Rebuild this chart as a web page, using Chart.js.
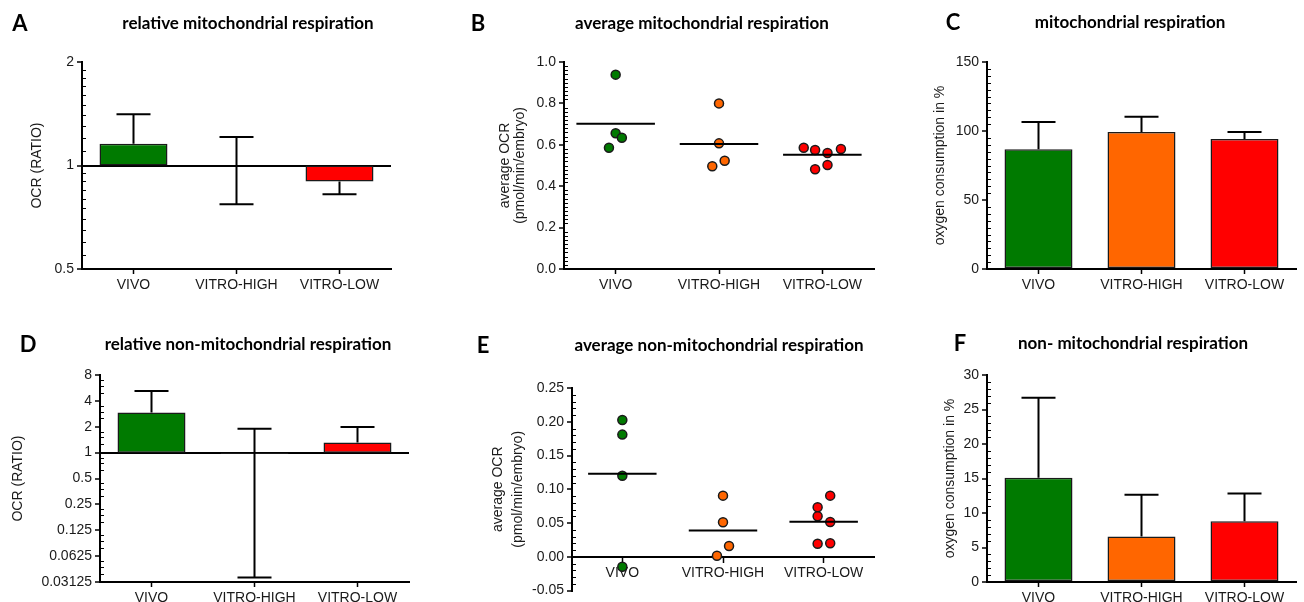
<!DOCTYPE html>
<html>
<head>
<meta charset="utf-8">
<script src="https://cdn.jsdelivr.net/npm/chart.js@4.4.1/dist/chart.umd.min.js"></script>
<style>
  body { margin: 0; background: #fff; width: 1304px; height: 602px; position: relative; overflow: hidden; }
  canvas { position: absolute; }
</style>
</head>
<body>
<canvas id="panelA" width="430" height="300" style="left:0;top:0"></canvas>
<canvas id="panelB" width="450" height="300" style="left:430px;top:0"></canvas>
<canvas id="panelC" width="424" height="300" style="left:880px;top:0"></canvas>
<canvas id="panelD" width="430" height="282" style="left:0;top:320px"></canvas>
<canvas id="panelE" width="450" height="282" style="left:430px;top:320px"></canvas>
<canvas id="panelF" width="424" height="282" style="left:880px;top:320px"></canvas>
<script>
var groups = ['VIVO', 'VITRO-HIGH', 'VITRO-LOW'];
var groupColors = ['#007a00', '#ff6600', '#ff0000'];

// A: relative mitochondrial respiration (ratio, log2 axis, bars from 1)
var relMitoMean = [1.157, 1.0, 0.898];
var relMitoErrTop = [1.41, 1.21, null];
var relMitoErrBottom = [null, 0.772, 0.825];
var relMitoTicks = [0.5, 1, 2];

// B: average mitochondrial respiration, single embryos
var avgMitoVivo = [0.939, 0.656, 0.634, 0.586];
var avgMitoHigh = [0.800, 0.607, 0.523, 0.496];
var avgMitoLow = [0.586, 0.575, 0.560, 0.580, 0.482, 0.502];
var avgMitoMean = [0.702, 0.604, 0.552];
// sideways spread of the dots inside a group (category units)
var avgMitoSpread = [[0, 0, 0.06, -0.065], [0, 0, 0.055, -0.065], [-0.18, -0.07, 0.05, 0.18, -0.07, 0.05]];
var avgMitoTicks = [0, 0.2, 0.4, 0.6, 0.8, 1.0];

// C: mitochondrial respiration in %
var mitoPct = [86.7, 99.3, 94.2];
var mitoPctErrTop = [106.5, 110.4, 99.3];
var mitoPctTicks = [0, 50, 100, 150];

// D: relative non-mitochondrial respiration
var relNonMean = [2.93, 0.967, 1.31];
var relNonErrTop = [5.2, 1.9, 1.99];
var relNonErrBottom = [null, 0.0352, null];
var relNonTicks = [0.03125, 0.0625, 0.125, 0.25, 0.5, 1, 2, 4, 8];

// E: average non-mitochondrial respiration, single embryos
var avgNonVivo = [0.2026, 0.181, 0.120, -0.0146];
var avgNonHigh = [0.0906, 0.0512, 0.016, 0.0015];
var avgNonLow = [0.0906, 0.0735, 0.060, 0.0516, 0.0195, 0.020];
var avgNonMean = [0.123, 0.039, 0.052];
var avgNonSpread = [[0, 0, 0, 0], [0, 0, 0.06, -0.06], [0.065, -0.06, -0.06, 0.065, -0.06, 0.065]];
var avgNonTicks = [-0.05, 0, 0.05, 0.1, 0.15, 0.2, 0.25];

// F: non-mitochondrial respiration in %
var nonPct = [15.1, 6.59, 8.81];
var nonPctErrTop = [26.7, 12.63, 12.83];
var nonPctTicks = [0, 5, 10, 15, 20, 25, 30];

Chart.defaults.font.family = '"Liberation Sans", Arial, sans-serif';
Chart.defaults.font.size = 14;
Chart.defaults.color = '#1a1a1a';
Chart.defaults.animation = false;
Chart.defaults.plugins.legend.display = false;
Chart.defaults.plugins.tooltip.enabled = false;

// minor tick positions between the labelled ticks
function linearMinor(ticks, n) {
  var out = [];
  for (var i = 0; i < ticks.length - 1; i++) {
    var step = (ticks[i + 1] - ticks[i]) / n;
    for (var k = 1; k < n; k++) out.push(ticks[i] + k * step);
  }
  return out;
}
function logMinor(ticks, mults) {
  var out = [];
  for (var i = 0; i < ticks.length - 1; i++) {
    mults.forEach(function(m) { out.push(ticks[i] * m); });
  }
  return out;
}

// panel letter + bold heading
var panelText = {
  id: 'panelText',
  afterDraw: function(chart, args, opts) {
    var ctx = chart.ctx;
    ctx.save();
    ctx.fillStyle = '#000';
    ctx.textAlign = 'center';
    ctx.textBaseline = 'middle';
    ctx.font = 'bold 22px Lato, sans-serif';
    ctx.fillText(opts.letter, opts.letterX, opts.y);
    ctx.font = 'bold 17px Lato, sans-serif';
    ctx.fillText(opts.title, opts.titleX, opts.y);
    ctx.restore();
  }
};

// small inward ticks on the y axis
var minorTicks = {
  id: 'minorTicks',
  afterDraw: function(chart, args, opts) {
    if (!opts.values) return;
    var ctx = chart.ctx, y = chart.scales.y, x0 = chart.chartArea.left;
    ctx.save();
    ctx.strokeStyle = '#000';
    ctx.lineWidth = 1;
    ctx.beginPath();
    opts.values.forEach(function(v) {
      var py = Math.round(y.getPixelForValue(v)) + 0.5;
      ctx.moveTo(x0, py);
      ctx.lineTo(x0 + 4, py);
    });
    ctx.stroke();
    ctx.restore();
  }
};

// SD whiskers for the bar panels
var errorBars = {
  id: 'errorBars',
  afterDatasetsDraw: function(chart, args, opts) {
    var ctx = chart.ctx, y = chart.scales.y;
    chart.data.datasets.forEach(function(ds, di) {
      if (!ds.errTop) return;
      chart.getDatasetMeta(di).data.forEach(function(bar, i) {
        var top = ds.errTop[i];
        var bot = ds.errBottom ? ds.errBottom[i] : null;
        var y1 = y.getPixelForValue(top != null ? top : ds.means[i]);
        var y0 = y.getPixelForValue(bot != null ? bot : ds.means[i]);
        var half = opts.cap / 2;
        ctx.save();
        ctx.strokeStyle = '#000';
        ctx.lineWidth = 2;
        ctx.beginPath();
        ctx.moveTo(bar.x, y0);
        ctx.lineTo(bar.x, y1);
        if (top != null) { ctx.moveTo(bar.x - half, y1); ctx.lineTo(bar.x + half, y1); }
        if (bot != null) { ctx.moveTo(bar.x - half, y0); ctx.lineTo(bar.x + half, y0); }
        ctx.stroke();
        ctx.restore();
      });
    });
  }
};

function yScale(p) {
  return {
    type: p.log ? 'logarithmic' : 'linear',
    min: p.min, max: p.max,
    afterFit: function(s) { s.width = p.area.left; },
    afterBuildTicks: function(s) {
      s.ticks = p.ticks.map(function(v) { return { value: v }; });
    },
    border: { color: '#000', width: 2 },
    grid: {
      color: function(c) { return p.log && c.tick && c.tick.value === 1 ? '#000' : 'rgba(0,0,0,0)'; },
      lineWidth: 2,
      tickColor: '#000', tickWidth: 1.5, tickLength: 5
    },
    ticks: {
      padding: 3,
      callback: p.fmt || function(v) { return String(v); }
    },
    title: {
      display: true, text: p.yTitle,
      font: { size: 14, lineHeight: p.titleLine || 1.2 },
      padding: { top: p.titlePad, bottom: 0 }
    }
  };
}

function plainXGrid() {
  return { drawOnChartArea: false, offset: false, tickColor: '#000', tickWidth: 1.5, tickLength: 5 };
}

function barPanel(id, p) {
  var c = document.getElementById(id);
  new Chart(c, {
    type: 'bar',
    data: {
      labels: groups,
      datasets: [{
        data: p.means.map(function(m) { return p.log ? [1, m] : m; }),
        means: p.means, errTop: p.errTop, errBottom: p.errBottom,
        backgroundColor: groupColors,
        borderColor: '#1a1a1a', borderWidth: 1.5, borderSkipped: false,
        categoryPercentage: 1, barPercentage: 0.66
      }]
    },
    options: {
      responsive: false,
      layout: { padding: { left: 0, right: c.width - p.area.right, top: p.area.top, bottom: 0 } },
      scales: {
        x: {
          afterFit: function(s) { s.height = c.height - p.area.bottom; },
          border: { color: '#000', width: 2 },
          grid: plainXGrid(),
          ticks: { padding: 3 }
        },
        y: yScale(p)
      },
      plugins: { panelText: p.text, errorBars: { cap: 34 }, minorTicks: { values: p.minor } }
    },
    plugins: [panelText, errorBars, minorTicks]
  });
}

function dotPanel(id, p) {
  var c = document.getElementById(id);
  var sets = p.values.map(function(vals, g) {
    return {
      type: 'scatter',
      data: vals.map(function(v, k) { return { x: g + p.spread[g][k], y: v }; }),
      backgroundColor: groupColors[g], borderColor: '#1a1a1a', borderWidth: 1.5,
      pointRadius: 4.5, order: 2
    };
  });
  var meanPts = [];
  p.means.forEach(function(m, g) {
    meanPts.push({ x: g - p.halfLine, y: m }, { x: g + p.halfLine, y: m }, { x: g + 0.5, y: null });
  });
  sets.push({
    type: 'line', data: meanPts, borderColor: '#000', borderWidth: 2,
    pointRadius: 0, spanGaps: false, order: 1
  });
  var xAxis = {
    type: 'linear', min: -0.5, max: 2.5,
    afterBuildTicks: function(s) { s.ticks = [{ value: 0 }, { value: 1 }, { value: 2 }]; },
    border: { color: '#000', width: 2 },
    grid: plainXGrid(),
    ticks: { padding: 3, callback: function(v) { return groups[v]; } }
  };
  var padBottom = 0;
  if (p.xAtZero) {
    xAxis.position = { y: 0 };
    padBottom = c.height - p.area.bottom;
  } else {
    xAxis.afterFit = function(s) { s.height = c.height - p.area.bottom; };
  }
  new Chart(c, {
    type: 'scatter',
    data: { datasets: sets },
    options: {
      responsive: false,
      layout: { padding: { left: 0, right: c.width - p.area.right, top: p.area.top, bottom: padBottom } },
      scales: { x: xAxis, y: yScale(p) },
      plugins: { panelText: p.text, minorTicks: { values: p.minor } }
    },
    plugins: [panelText, minorTicks]
  });
}

barPanel('panelA', {
  log: true, min: 0.5, max: 2, ticks: relMitoTicks,
  minor: logMinor(relMitoTicks, [1.1, 1.2, 1.3, 1.4, 1.5, 1.6, 1.7, 1.8, 1.9]),
  means: relMitoMean, errTop: relMitoErrTop, errBottom: relMitoErrBottom,
  area: { left: 82, right: 391, top: 62, bottom: 269 },
  yTitle: 'OCR (RATIO)', titlePad: 29,
  text: { letter: 'A', letterX: 20, titleX: 248, y: 24, title: 'relative mitochondrial respiration' }
});

dotPanel('panelB', {
  min: 0, max: 1, ticks: avgMitoTicks, minor: linearMinor(avgMitoTicks, 10),
  fmt: function(v) { return v.toFixed(1); },
  values: [avgMitoVivo, avgMitoHigh, avgMitoLow], spread: avgMitoSpread,
  means: avgMitoMean, halfLine: 0.38,
  area: { left: 134, right: 444, top: 62, bottom: 269 },
  yTitle: ['average OCR', '(pmol/min/embryo)'], titleLine: 1.1, titlePad: 67,
  text: { letter: 'B', letterX: 48, titleX: 272, y: 24, title: 'average mitochondrial respiration' }
});

barPanel('panelC', {
  min: 0, max: 150, ticks: mitoPctTicks, minor: linearMinor(mitoPctTicks, 10),
  means: mitoPct, errTop: mitoPctErrTop,
  area: { left: 107, right: 416, top: 62, bottom: 269 },
  yTitle: 'oxygen consumption in %', titlePad: 52,
  text: { letter: 'C', letterX: 73, titleX: 250, y: 23, title: 'mitochondrial respiration' }
});

barPanel('panelD', {
  log: true, min: 0.03125, max: 8, ticks: relNonTicks,
  minor: logMinor(relNonTicks, [1.25, 1.5, 1.75]),
  means: relNonMean, errTop: relNonErrTop, errBottom: relNonErrBottom,
  area: { left: 100, right: 409, top: 55, bottom: 262 },
  yTitle: 'OCR (RATIO)', titlePad: 10,
  text: { letter: 'D', letterX: 28, titleX: 248, y: 25, title: 'relative non-mitochondrial respiration' }
});

dotPanel('panelE', {
  min: -0.05, max: 0.25, ticks: avgNonTicks, minor: linearMinor(avgNonTicks, 5),
  fmt: function(v) { return v.toFixed(2); },
  values: [avgNonVivo, avgNonHigh, avgNonLow], spread: avgNonSpread,
  means: avgNonMean, halfLine: 0.34, xAtZero: true,
  area: { left: 142, right: 448, top: 68, bottom: 275 },
  yTitle: ['average OCR', '(pmol/min/embryo)'], titleLine: 1.45, titlePad: 58,
  text: { letter: 'E', letterX: 53, titleX: 289, y: 26, title: 'average non-mitochondrial respiration' }
});

barPanel('panelF', {
  min: 0, max: 30, ticks: nonPctTicks, minor: linearMinor(nonPctTicks, 5),
  means: nonPct, errTop: nonPctErrTop,
  area: { left: 107, right: 416, top: 55, bottom: 262 },
  yTitle: 'oxygen consumption in %', titlePad: 62,
  text: { letter: 'F', letterX: 80, titleX: 253, y: 24, title: 'non- mitochondrial respiration' }
});
</script>
</body>
</html>
